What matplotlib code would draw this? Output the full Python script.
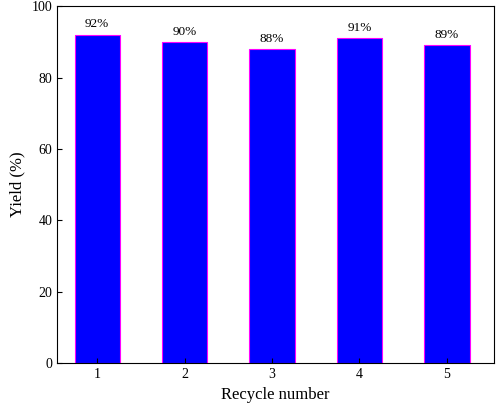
import matplotlib
matplotlib.use("Agg")
import matplotlib.pyplot as plt

cycles = [1, 2, 3, 4, 5]
yields = [92, 90, 88, 91, 89]
labels = ["92%", "90%", "88%", "91%", "89%"]

plt.rcParams['font.family'] = ['Liberation Serif', 'DejaVu Serif']
fig = plt.figure(figsize=(4.96, 4.09), dpi=100)
ax = fig.add_axes([0.115, 0.112, 0.881, 0.873])
ax.bar(cycles, yields, width=0.52, color='#0000ff', edgecolor='#ff00ff', linewidth=0.8)
for x, y, t in zip(cycles, yields, labels):
    ax.text(x, y + 1.2, t, ha='center', va='bottom', fontsize=9.5)
ax.set_xlim(0.54, 5.54)
ax.set_ylim(0, 100)
ax.set_yticks(range(0, 101, 20))
ax.set_xticks(cycles)
ax.tick_params(direction='in', labelsize=10)
ax.set_xlabel("Recycle number", fontsize=12)
ax.set_ylabel("Yield (%)", fontsize=12)
fig.savefig("out.png", dpi=100)
